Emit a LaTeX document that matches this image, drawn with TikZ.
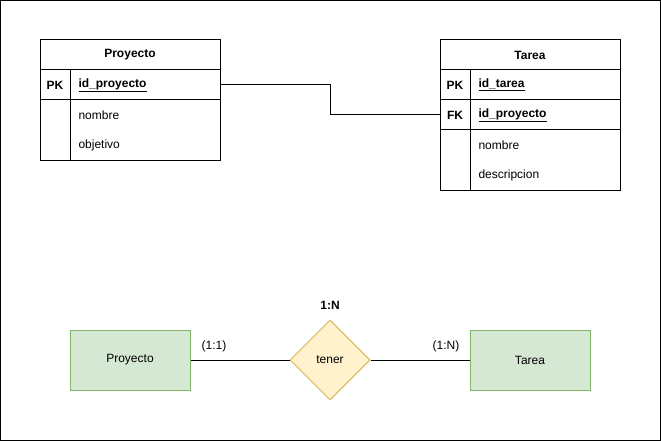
\documentclass[tikz,border=0pt]{standalone}
\usepackage{fontspec}
\setmainfont{Liberation Sans}
\usetikzlibrary{shapes.geometric}
\definecolor{entfill}{HTML}{D5E8D4}
\definecolor{entdraw}{HTML}{82B366}
\definecolor{relfill}{HTML}{FFF2CC}
\definecolor{reldraw}{HTML}{D6B656}
\newcommand{\dfont}{\fontsize{12}{14}\selectfont}
\tikzset{
  tablehead/.style={
    draw,
    minimum width=180pt,
    minimum height=30pt,
    inner sep=0pt,
    font=\dfont\bfseries
  },
  tablerow/.style={
    draw,
    minimum width=180pt,
    inner sep=0pt
  },
  keytext/.style={
    inner sep=0pt,
    font=\dfont\bfseries
  },
  fieldtext/.style={
    inner sep=0pt,
    anchor=west
  },
  entity/.style={
    draw=entdraw,
    fill=entfill,
    minimum width=120pt,
    minimum height=60pt
  },
  relation/.style={
    shape=diamond,
    draw=reldraw,
    fill=relfill,
    minimum width=80pt,
    minimum height=80pt,
    inner sep=0pt
  },
  every picture/.style = {
    x=1pt,
    y=-1pt,
    line width=1pt,
    font=\dfont
  }
}

\begin{document}
\begin{tikzpicture}
    \useasboundingbox (0,0) rectangle (661,441);
    \draw (0.5,0.5) rectangle (660.5,440.5);
    % tabla Proyecto
    \node[tablehead] (proyecto) at (130,55) {Proyecto};
    \node[tablerow,minimum height=30pt] (proyecto-pk) at (130,85) {};
    \node[tablerow,minimum height=60pt] (proyecto-body) at (130,130) {};
    \draw (70,70) -- (70,160);
    \node[keytext] at (55,85) {PK};
    \node[fieldtext,font=\dfont\bfseries] at (78,85) {\underline{id\_proyecto}};
    \foreach \y/\t in {115/nombre,145/objetivo}{
            \node[fieldtext] at (78,\y) {\t};
        }
    % tabla Tarea
    \node[tablehead] (tarea) at (530,55) {Tarea};
    \node[tablerow,minimum height=30pt] (tarea-pk) at (530,85) {};
    \node[tablerow,minimum height=30pt] (tarea-fk) at (530,115) {};
    \node[tablerow,minimum height=60pt] (tarea-body) at (530,160) {};
    \draw (470,70) -- (470,190);
    \foreach \y/\k/\t in {85/PK/id\_tarea,115/FK/id\_proyecto}{
            \node[keytext] at (455,\y) {\k};
            \node[fieldtext,font=\dfont\bfseries] at (478,\y) {\underline{\t}};
        }
    \foreach \y/\t in {145/nombre,175/descripcion}{
            \node[fieldtext] at (478,\y) {\t};
        }
    \draw (proyecto-pk.east) -- ++(110,0) |- (tarea-fk.west);
    % modelo entidad-relacion
    \node[entity] (e-proyecto) at (130,360) {Proyecto};
    \node[relation] (tener) at (330,360) {tener};
    \node[entity] (e-tarea) at (530,360) {Tarea};
    \draw (e-proyecto) -- (tener);
    \draw (tener) -- (e-tarea);
    \node (c-proyecto) at (214,346) {(1:1)};
    \node (c-tarea) at (446,346) {(1:N)};
    \node[font=\dfont\bfseries] (tipo) at (330,305) {1:N};
\end{tikzpicture}
\end{document}
